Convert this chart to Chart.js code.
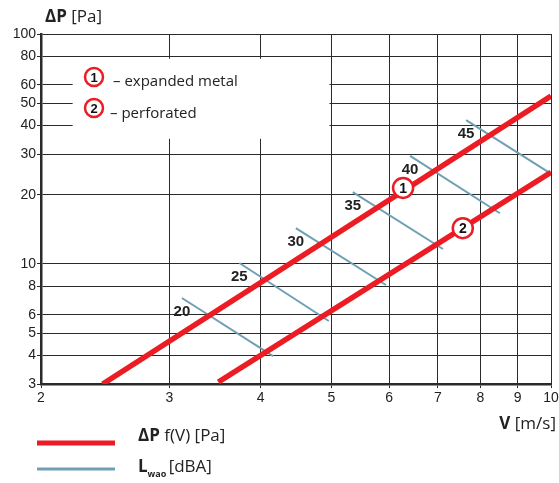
<!DOCTYPE html>
<html>
<head>
<meta charset="utf-8">
<script src="https://cdn.jsdelivr.net/npm/chart.js@4.4.1/dist/chart.umd.min.js"></script>
<style>
  body { margin: 0; background: #fff; }
  #wrap { width: 559px; height: 483px; }
</style>
</head>
<body>
<div id="wrap"><canvas id="chart" width="559" height="483"></canvas></div>
<script>
// axis ticks
const xTicks = [2, 3, 4, 5, 6, 7, 8, 9, 10];
const yTicks = [3, 4, 5, 6, 8, 10, 20, 30, 40, 50, 60, 80, 100];

// pressure drop lines, dP f(V) [Pa]
const expandedMetal = [{ x: 2.43, y: 3 }, { x: 10, y: 53.7 }];
const perforated = [{ x: 3.5, y: 3.06 }, { x: 10, y: 25 }];
const markerLabels = ['1', '2'];
const markerPoints = [{ x: 6.27, y: 21.4 }, { x: 7.57, y: 14.3 }];

// sound power level lines, Lwao [dBA]
const lwaoLabels = ['20', '25', '30', '35', '40', '45'];
const lwaoLines = [
    [{ x: 3.12, y: 7.1 }, { x: 4.16, y: 3.97 }],
    [{ x: 3.74, y: 10.08 }, { x: 4.96, y: 5.64 }],
    [{ x: 4.47, y: 14.3 }, { x: 5.94, y: 8.09 }],
    [{ x: 5.35, y: 20.5 }, { x: 7.11, y: 11.6 }],
    [{ x: 6.41, y: 29.5 }, { x: 8.51, y: 16.6 }],
    [{ x: 7.65, y: 42.2 }, { x: 9.97, y: 24.8 }]
];

const RED = '#ec1c24';
const BLUE = '#6f9fb4';
const GRID = '#2a2a2a';
const TITLE_FONT = '"Open Sans", "Noto Sans", sans-serif';
const TICK_FONT = '"Liberation Sans", Arial, sans-serif';

Chart.defaults.font.family = TICK_FONT;
Chart.defaults.color = '#222';

const datasets = [
    ...lwaoLines.map(pts => ({
        data: pts,
        order: 3,
        borderColor: BLUE,
        borderWidth: 2,
        pointRadius: 0,
        borderCapStyle: 'butt'
    })),
    {
        data: expandedMetal,
        order: 2,
        borderColor: RED,
        borderWidth: 5.5,
        pointRadius: 0,
        borderCapStyle: 'butt'
    },
    {
        data: perforated,
        order: 2,
        borderColor: RED,
        borderWidth: 5.5,
        pointRadius: 0,
        borderCapStyle: 'butt'
    },
    {
        data: markerPoints,
        order: 1,
        showLine: false,
        pointRadius: 10,
        pointBackgroundColor: '#fff',
        pointBorderColor: RED,
        pointBorderWidth: 2.5
    }
];

function circledNumber(ctx, x, y, r, text) {
    ctx.save();
    ctx.beginPath();
    ctx.arc(x, y, r, 0, Math.PI * 2);
    ctx.fillStyle = '#fff';
    ctx.fill();
    ctx.lineWidth = 2.5;
    ctx.strokeStyle = RED;
    ctx.stroke();
    ctx.fillStyle = '#111';
    ctx.font = 'bold 13px ' + TICK_FONT;
    ctx.textAlign = 'center';
    ctx.textBaseline = 'middle';
    ctx.fillText(text, x, y + 1);
    ctx.restore();
}

const decorations = {
    id: 'decorations',
    beforeDatasetsDraw(chart) {
        const { ctx, scales: { x, y } } = chart;
        // white legend box over the grid
        const x0 = x.getPixelForValue(2.21), x1 = x.getPixelForValue(4.97);
        const y0 = y.getPixelForValue(78), y1 = y.getPixelForValue(35);
        ctx.save();
        ctx.fillStyle = '#fff';
        ctx.fillRect(x0, y0, x1 - x0, y1 - y0);
        ctx.restore();
    },
    afterDatasetsDraw(chart) {
        const { ctx, scales: { x, y } } = chart;
        ctx.save();

        // numbers inside the markers
        markerPoints.forEach((p, i) => {
            ctx.fillStyle = '#111';
            ctx.font = 'bold 14px ' + TICK_FONT;
            ctx.textAlign = 'center';
            ctx.textBaseline = 'middle';
            ctx.fillText(markerLabels[i], x.getPixelForValue(p.x), y.getPixelForValue(p.y) + 1);
        });

        // Lwao values below the start of each line
        ctx.font = 'bold 15px ' + TICK_FONT;
        ctx.fillStyle = '#222';
        ctx.textAlign = 'center';
        ctx.textBaseline = 'middle';
        lwaoLines.forEach((pts, i) => {
            ctx.fillText(lwaoLabels[i], x.getPixelForValue(pts[0].x), y.getPixelForValue(pts[0].y) + 14);
        });

        // legend inside the box
        circledNumber(ctx, 94, 77, 9, '1');
        circledNumber(ctx, 94, 108, 9, '2');
        ctx.fillStyle = '#222';
        ctx.textAlign = 'left';
        ctx.textBaseline = 'alphabetic';
        ctx.font = '15px ' + TITLE_FONT;
        ctx.fillText('\u2013 expanded metal', 113, 86);
        ctx.fillText('\u2013 perforated', 110, 118);

        // axis titles
        ctx.font = 'bold 17px ' + TITLE_FONT;
        ctx.fillText('\u0394P', 45, 22);
        let w = ctx.measureText('\u0394P ').width;
        ctx.font = '17px ' + TITLE_FONT;
        ctx.fillText('[Pa]', 45 + w, 22);

        ctx.textAlign = 'right';
        ctx.font = '17px ' + TITLE_FONT;
        const unit = ' [m/s]';
        ctx.fillText(unit, 556, 429);
        const uw = ctx.measureText(unit).width;
        ctx.font = 'bold 17px ' + TITLE_FONT;
        ctx.fillText('V', 556 - uw, 429);

        // bottom legend
        ctx.lineCap = 'butt';
        ctx.strokeStyle = RED;
        ctx.lineWidth = 5;
        ctx.beginPath();
        ctx.moveTo(37, 443);
        ctx.lineTo(115, 443);
        ctx.stroke();
        ctx.strokeStyle = BLUE;
        ctx.lineWidth = 3;
        ctx.beginPath();
        ctx.moveTo(37, 469);
        ctx.lineTo(115, 469);
        ctx.stroke();

        ctx.textAlign = 'left';
        ctx.fillStyle = '#222';
        ctx.font = 'bold 17px ' + TITLE_FONT;
        ctx.fillText('\u0394P', 138, 441);
        w = ctx.measureText('\u0394P ').width;
        ctx.font = '17px ' + TITLE_FONT;
        ctx.fillText('f(V) [Pa]', 138 + w, 441);

        ctx.font = 'bold 17px ' + TITLE_FONT;
        ctx.fillText('L', 138, 472);
        w = ctx.measureText('L').width;
        ctx.font = 'bold 9px ' + TITLE_FONT;
        ctx.fillText('wao', 138 + w, 477);
        const sw = ctx.measureText('wao ').width;
        ctx.font = '17px ' + TITLE_FONT;
        ctx.fillText('[dBA]', 138 + w + sw, 472);

        ctx.restore();
    }
};

new Chart(document.getElementById('chart'), {
    type: 'line',
    data: { datasets },
    options: {
        responsive: false,
        animation: false,
        layout: { autoPadding: false, padding: { left: 0, right: 8, top: 34, bottom: 0 } },
        plugins: { legend: { display: false }, tooltip: { enabled: false } },
        scales: {
            x: {
                type: 'logarithmic',
                min: 2,
                max: 10,
                afterBuildTicks: s => { s.ticks = xTicks.map(v => ({ value: v })); },
                afterFit: s => { s.height = 99; s.paddingLeft = 0; s.paddingRight = 0; },
                ticks: {
                    autoSkip: false,
                    maxRotation: 0,
                    padding: 2,
                    font: { size: 14 },
                    color: '#222',
                    callback: v => String(v)
                },
                grid: { color: GRID, lineWidth: 1, tickLength: 4, tickColor: GRID },
                border: { color: GRID, width: 2.5 }
            },
            y: {
                type: 'logarithmic',
                min: 3,
                max: 100,
                afterBuildTicks: s => { s.ticks = yTicks.map(v => ({ value: v })); },
                afterFit: s => { s.width = 41; s.paddingTop = 0; s.paddingBottom = 0; },
                ticks: {
                    autoSkip: false,
                    padding: 1,
                    font: { size: 14 },
                    color: '#222',
                    callback: v => String(v)
                },
                grid: { color: GRID, lineWidth: 1, tickLength: 4, tickColor: GRID },
                border: { color: GRID, width: 2.5 }
            }
        }
    },
    plugins: [decorations]
});
</script>
</body>
</html>
